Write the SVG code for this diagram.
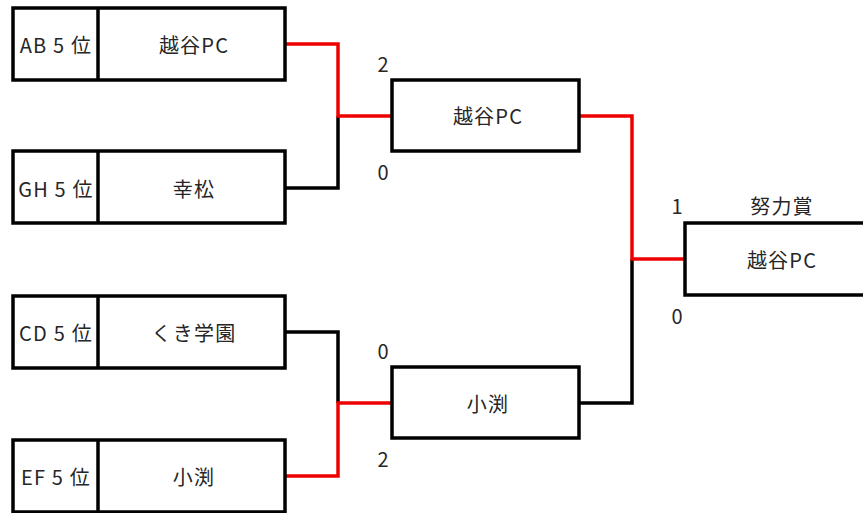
<svg xmlns="http://www.w3.org/2000/svg" width="863" height="513" viewBox="0 0 863 513">
<style>
.box{fill:#fff;stroke:#000;stroke-width:3.5}
.div{stroke:#000;stroke-width:3.5}
.t{font-family:"Noto Sans CJK JP","Noto Sans",sans-serif;font-size:20px;fill:#262626;text-anchor:middle;dominant-baseline:central;letter-spacing:1.2px}
.s{letter-spacing:0}
.w{fill:none;stroke:#e00;stroke-width:3.5}
.l{fill:none;stroke:#000;stroke-width:3.5}
</style>
<rect width="863" height="513" fill="#fff"/>
<g id="connectors">
<polyline class="l" points="285,188 338,188 338,116"/>
<polyline class="w" points="285,44 338,44 338,116 392,116"/>
<polyline class="l" points="285,332 338,332 338,403"/>
<polyline class="w" points="285,476 338,476 338,403 392,403"/>
<polyline class="l" points="579,403 632,403 632,259"/>
<polyline class="w" points="579,116 632,116 632,259 685,259"/>
</g>
<g id="n-ab">
<rect class="box" x="13" y="8" width="272" height="72"/>
<line class="div" x1="98" y1="8" x2="98" y2="80"/>
<text class="t" x="56" y="44">AB 5 位</text>
<text class="t" x="194" y="44">越谷PC</text>
</g>
<g id="n-gh">
<rect class="box" x="13" y="151" width="272" height="72"/>
<line class="div" x1="98" y1="151" x2="98" y2="223"/>
<text class="t" x="56" y="188">GH 5 位</text>
<text class="t" x="194" y="188">幸松</text>
</g>
<g id="n-cd">
<rect class="box" x="13" y="296" width="272" height="72"/>
<line class="div" x1="98" y1="296" x2="98" y2="368"/>
<text class="t" x="56" y="332">CD 5 位</text>
<text class="t" x="194" y="332">くき学園</text>
</g>
<g id="n-ef">
<rect class="box" x="13" y="440" width="272" height="72"/>
<line class="div" x1="98" y1="440" x2="98" y2="512"/>
<text class="t" x="56" y="476">EF 5 位</text>
<text class="t" x="194" y="476">小渕</text>
</g>
<g id="n-semi1">
<rect class="box" x="392" y="80" width="187" height="71"/>
<text class="t" x="488" y="115">越谷PC</text>
</g>
<g id="n-semi2">
<rect class="box" x="392" y="367" width="187" height="71"/>
<text class="t" x="488" y="403">小渕</text>
</g>
<g id="n-final">
<rect class="box" x="685" y="223" width="190" height="72"/>
<text class="t" x="782" y="259">越谷PC</text>
<text class="t" x="782" y="205">努力賞</text>
</g>
<g id="scores">
<text class="t s" x="383" y="63">2</text>
<text class="t s" x="383" y="171">0</text>
<text class="t s" x="383" y="350">0</text>
<text class="t s" x="383" y="458">2</text>
<text class="t s" x="677" y="205">1</text>
<text class="t s" x="677" y="315">0</text>
</g>
</svg>
